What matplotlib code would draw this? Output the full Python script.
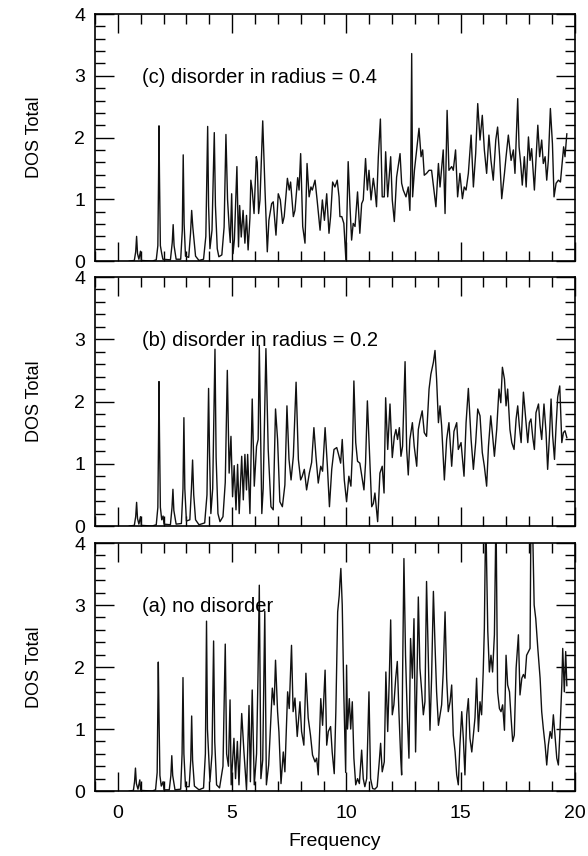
import matplotlib
matplotlib.use("Agg")
import matplotlib.pyplot as plt
from matplotlib.ticker import MultipleLocator
import numpy as np

plt.rcParams['font.family'] = ['Liberation Sans', 'DejaVu Sans']

# (frequency, DOS) points, one list per panel
pts_c = [(0.50,0.0),(0.72,0.01),(0.78,0.15),(0.82,0.40),(0.86,0.12),(0.92,0.03),(0.99,0.16),(1.03,0.01),
         (1.50,0.0),(1.68,0.02),(1.75,0.25),(1.78,1.3),(1.80,2.19),(1.82,1.4),(1.86,0.25),(1.92,0.12),
         (1.97,0.03),(2.30,0.02),(2.38,0.3),(2.42,0.59),(2.46,0.25),(2.55,0.03),(2.75,0.03),(2.82,0.5),
         (2.86,1.72),(2.90,0.6),(2.96,0.08),(3.10,0.06),(3.18,0.45),(3.23,0.82),(3.28,0.55),(3.33,0.35),
         (3.40,0.08),(3.55,0.01),(3.75,0.03),(3.85,0.4),(3.93,2.18),(3.97,0.9),(4.03,0.2),(4.12,0.5),
         (4.22,2.08),(4.27,0.9),(4.35,0.2),(4.42,0.07),(4.55,0.1),(4.65,0.55),(4.73,2.05),(4.80,1.0),
         (4.87,0.55),(4.92,0.3),(4.98,1.09),(5.04,0.12),(5.10,0.35),(5.21,1.53),(5.28,0.23),(5.33,0.9),
         (5.40,0.39),(5.48,0.82),(5.56,0.29),(5.63,0.74),(5.70,0.18),(5.78,0.7),(5.82,1.31),(5.88,1.15),
         (5.96,0.77),(6.06,1.69),(6.10,1.6),(6.16,0.77),(6.22,0.99),(6.34,2.27),(6.44,1.15),(6.54,0.15),
         (6.61,0.66),(6.73,0.93),(6.80,0.96),(6.92,0.42),(7.02,1.09),(7.11,0.99),(7.21,0.61),(7.28,0.72),
         (7.42,1.34),(7.50,1.15),(7.56,1.28),(7.68,0.72),(7.75,0.82),(7.87,1.35),(7.93,1.15),(8.00,1.74),
         (8.09,0.56),(8.19,0.29),(8.28,1.58),(8.37,1.04),(8.45,1.20),(8.51,1.15),(8.63,1.31),(8.72,0.99),
         (8.85,0.50),(8.95,0.99),(9.04,0.66),(9.14,1.09),(9.24,0.45),(9.31,0.72),(9.40,1.28),(9.50,1.20),
         (9.60,1.31),(9.68,1.04),(9.72,0.72),(9.80,0.72),(9.89,0.61),(9.98,0.02),(10.08,1.61),(10.16,0.88),
         (10.23,0.34),(10.30,0.61),(10.38,0.56),(10.49,1.12),(10.59,0.45),(10.67,0.93),(10.74,0.99),
         (10.84,1.66),(10.92,1.15),(10.99,1.47),(11.08,0.99),(11.18,1.34),(11.25,1.15),(11.32,0.88),
         (11.40,1.69),(11.49,2.30),(11.57,1.04),(11.66,1.04),(11.72,1.77),(11.81,1.04),(11.94,1.69),
         (12.01,0.99),(12.10,0.64),(12.20,1.36),(12.35,1.74),(12.42,1.26),(12.49,1.15),(12.61,1.04),
         (12.71,1.20),(12.78,0.82),(12.82,1.47),(12.86,3.36),(12.90,1.04),(12.98,1.47),(13.18,2.15),
         (13.27,1.69),(13.34,1.80),(13.41,1.39),(13.51,1.42),(13.62,1.47),(13.73,1.47),(13.85,1.09),
         (13.92,0.88),(14.03,1.58),(14.10,1.20),(14.24,1.80),(14.32,0.77),(14.41,2.44),(14.49,1.47),
         (14.61,1.53),(14.68,1.47),(14.78,1.80),(14.87,1.04),(14.97,1.42),(15.08,1.01),(15.16,1.20),
         (15.24,1.15),(15.34,1.42),(15.46,2.04),(15.56,1.20),(15.66,1.74),(15.75,2.55),(15.85,1.96),
         (15.95,2.36),(16.04,1.80),(16.14,1.42),(16.24,2.04),(16.33,1.63),(16.43,1.31),(16.54,1.96),
         (16.62,2.17),(16.71,1.69),(16.80,1.01),(16.92,1.42),(16.99,1.69),(17.09,2.04),(17.21,1.63),
         (17.31,1.80),(17.38,1.42),(17.50,2.63),(17.56,1.85),(17.63,1.58),(17.70,1.23),(17.79,1.69),
         (17.87,1.20),(17.97,2.01),(18.04,1.63),(18.11,1.82),(18.23,1.15),(18.32,1.80),(18.38,2.20),
         (18.46,1.69),(18.55,1.96),(18.62,1.58),(18.70,1.69),(18.77,1.31),(18.84,1.63),(18.93,2.47),
         (19.02,1.90),(19.09,1.04),(19.18,1.26),(19.28,1.31),(19.37,1.28),(19.43,1.53),(19.51,1.85),
         (19.57,1.69),(19.65,2.06)]

pts_b = [(0.50,0.0),(0.72,0.01),(0.78,0.15),(0.82,0.38),(0.86,0.12),(0.92,0.03),(0.99,0.15),(1.03,0.01),
         (1.50,0.0),(1.68,0.02),(1.75,0.3),(1.78,1.4),(1.80,2.32),(1.82,1.5),(1.86,0.3),(1.92,0.1),
         (1.98,0.16),(2.02,0.03),(2.30,0.02),(2.37,0.3),(2.41,0.59),(2.45,0.25),(2.55,0.03),(2.78,0.04),
         (2.85,0.6),(2.89,1.74),(2.93,0.6),(3.00,0.08),(3.15,0.1),(3.22,0.6),(3.27,1.06),(3.32,0.5),
         (3.40,0.1),(3.55,0.02),(3.80,0.05),(3.90,0.5),(3.97,2.21),(4.01,1.2),(4.07,0.2),(4.15,0.6),
         (4.25,2.84),(4.30,1.1),(4.38,0.2),(4.47,0.07),(4.60,0.15),(4.70,0.7),(4.79,2.50),(4.87,0.85),
         (4.95,1.44),(5.02,0.47),(5.09,0.97),(5.17,0.26),(5.24,0.99),(5.31,0.2),(5.42,1.12),(5.49,0.42),
         (5.56,1.15),(5.63,0.58),(5.68,1.15),(5.78,0.2),(5.88,2.04),(5.97,0.64),(6.07,1.28),(6.14,1.39),
         (6.19,2.9),(6.30,0.2),(6.36,0.6),(6.48,2.85),(6.58,1.23),(6.70,0.31),(6.80,0.26),(6.90,1.88),
         (6.99,1.39),(7.09,0.39),(7.20,0.31),(7.31,0.66),(7.40,1.93),(7.49,1.07),(7.58,0.74),(7.68,1.12),
         (7.80,2.31),(7.90,1.07),(8.00,0.74),(8.07,0.80),(8.16,0.91),(8.26,0.58),(8.38,0.85),(8.48,1.02),
         (8.58,1.58),(8.67,1.12),(8.77,0.69),(8.88,0.96),(8.96,0.88),(9.07,1.58),(9.17,0.96),(9.26,0.31),
         (9.36,0.91),(9.46,1.23),(9.58,1.26),(9.68,1.12),(9.75,1.01),(9.82,1.39),(9.91,0.74),(10.01,0.39),
         (10.11,0.80),(10.20,0.64),(10.27,1.23),(10.33,2.33),(10.41,1.34),(10.49,1.04),(10.59,1.01),
         (10.70,0.74),(10.77,0.58),(10.84,1.01),(10.92,2.01),(11.00,1.28),(11.11,0.31),(11.18,0.36),
         (11.25,0.53),(11.37,0.07),(11.47,0.85),(11.57,0.96),(11.65,0.53),(11.72,2.06),(11.81,1.23),
         (11.91,1.96),(12.01,1.10),(12.10,1.44),(12.17,1.55),(12.24,1.39),(12.32,1.58),(12.39,1.12),
         (12.46,1.28),(12.57,2.64),(12.64,1.23),(12.71,0.82),(12.78,1.39),(12.89,1.66),(12.97,1.28),
         (13.08,0.96),(13.15,1.55),(13.22,1.69),(13.32,1.85),(13.41,1.50),(13.51,1.44),(13.62,2.20),
         (13.70,2.44),(13.81,2.63),(13.88,2.82),(13.95,2.36),(14.03,1.66),(14.10,1.93),(14.17,1.61),
         (14.29,0.74),(14.39,1.39),(14.49,1.66),(14.61,0.96),(14.71,1.52),(14.83,1.66),(14.90,1.23),
         (15.02,1.34),(15.15,0.80),(15.24,1.66),(15.34,2.21),(15.46,1.39),(15.56,0.91),(15.66,1.34),
         (15.75,1.88),(15.85,1.77),(15.95,1.18),(16.04,0.96),(16.14,0.64),(16.22,1.28),(16.32,1.77),
         (16.39,1.50),(16.48,1.12),(16.58,1.55),(16.68,2.20),(16.76,1.98),(16.83,2.55),(16.92,2.36),
         (16.99,1.93),(17.06,2.20),(17.16,1.55),(17.24,1.34),(17.34,1.23),(17.43,1.72),(17.50,1.93),
         (17.57,1.61),(17.65,1.34),(17.75,2.15),(17.85,1.72),(17.94,1.34),(18.01,1.66),(18.08,1.72),
         (18.16,1.42),(18.23,1.23),(18.30,1.82),(18.41,1.96),(18.48,1.61),(18.55,1.39),(18.65,1.96),
         (18.74,1.50),(18.81,0.91),(18.89,1.45),(18.96,2.04),(19.03,1.45),(19.11,1.07),(19.18,1.61),
         (19.25,2.07),(19.34,2.25),(19.43,1.34),(19.50,1.50),(19.57,1.53),(19.65,1.42)]

pts_a = [(0.50,0.0),(0.68,0.01),(0.73,0.15),(0.77,0.37),(0.81,0.12),(0.88,0.03),(0.96,0.18),(1.00,0.01),
         (1.50,0.0),(1.65,0.02),(1.72,0.3),(1.75,1.3),(1.77,2.08),(1.80,1.2),(1.84,0.25),(1.90,0.08),
         (1.98,0.15),(2.02,0.02),(2.25,0.02),(2.32,0.25),(2.36,0.57),(2.40,0.25),(2.50,0.02),(2.75,0.03),
         (2.81,0.6),(2.85,1.83),(2.89,0.6),(2.96,0.07),(3.12,0.07),(3.19,0.5),(3.23,1.21),(3.27,0.5),
         (3.35,0.08),(3.55,0.02),(3.75,0.05),(3.83,0.6),(3.88,2.74),(3.92,1.0),(4.03,0.15),(4.12,0.6),
         (4.19,2.42),(4.24,0.8),(4.32,0.1),(4.45,0.05),(4.60,0.4),(4.70,2.37),(4.76,0.6),(4.84,0.4),
         (4.91,1.47),(4.96,0.1),(5.08,0.85),(5.15,0.2),(5.23,0.8),(5.30,0.1),(5.42,1.25),(5.52,0.62),
         (5.63,0.02),(5.74,1.38),(5.80,0.15),(5.88,1.63),(5.97,0.1),(6.07,0.6),(6.13,1.8),(6.19,3.32),
         (6.26,0.2),(6.34,0.5),(6.43,2.9),(6.50,0.1),(6.60,0.42),(6.76,1.66),(6.84,1.39),(6.90,2.11),
         (6.99,1.28),(7.05,0.95),(7.14,0.12),(7.24,0.63),(7.31,0.31),(7.43,1.6),(7.50,1.33),(7.60,2.35),
         (7.67,1.28),(7.75,1.50),(7.85,0.88),(7.97,1.44),(8.04,0.96),(8.14,0.74),(8.23,1.9),(8.33,1.18),
         (8.43,0.90),(8.52,0.58),(8.63,0.47),(8.70,0.53),(8.77,0.26),(8.88,1.49),(8.96,1.06),(9.07,1.95),
         (9.14,0.74),(9.21,0.96),(9.31,1.04),(9.38,0.63),(9.47,0.28),(9.54,1.28),(9.62,2.89),(9.69,3.16),
         (9.72,3.38),(9.76,3.59),(9.82,3.0),(9.89,1.55),(9.97,0.3),(10.01,2.03),(10.05,1.0),(10.13,1.49),
         (10.19,1.0),(10.26,1.44),(10.33,0.53),(10.41,0.1),(10.49,0.2),(10.57,0.12),(10.67,0.66),
         (10.74,0.2),(10.81,0.07),(10.89,0.2),(10.99,1.6),(11.06,0.2),(11.15,0.04),(11.25,0.03),
         (11.35,0.07),(11.44,0.47),(11.50,0.77),(11.57,0.31),(11.66,0.47),(11.73,1.92),(11.81,0.96),
         (11.88,1.82),(11.94,2.76),(12.01,1.23),(12.08,1.39),(12.16,1.82),(12.23,2.09),(12.30,1.28),
         (12.38,0.53),(12.42,0.26),(12.46,1.82),(12.52,3.75),(12.59,2.19),(12.67,1.18),(12.74,0.53),
         (12.81,2.46),(12.89,1.82),(12.96,2.78),(13.03,0.63),(13.11,2.19),(13.15,3.13),(13.22,1.98),
         (13.30,1.60),(13.37,1.23),(13.44,1.44),(13.51,3.38),(13.59,2.09),(13.66,0.98),(13.73,1.82),
         (13.81,3.22),(13.88,2.36),(13.95,1.60),(14.03,1.06),(14.10,1.23),(14.17,1.39),(14.24,1.92),
         (14.32,2.89),(14.39,1.82),(14.46,1.28),(14.54,1.44),(14.61,1.71),(14.68,0.90),(14.76,0.63),
         (14.83,0.26),(14.90,0.1),(14.97,0.74),(15.05,1.28),(15.12,0.85),(15.19,0.26),(15.27,1.23),
         (15.34,1.49),(15.41,0.85),(15.49,0.63),(15.56,0.90),(15.63,1.18),(15.70,1.82),(15.78,0.96),
         (15.85,1.44),(15.92,1.23),(15.99,1.92),(16.04,2.62),(16.10,4.5),(16.19,2.58),(16.26,1.92),
         (16.33,2.19),(16.40,1.92),(16.48,2.52),(16.55,4.5),(16.62,1.60),(16.70,1.33),(16.77,1.28),
         (16.84,1.39),(16.92,0.98),(16.99,2.19),(17.06,1.71),(17.14,1.60),(17.21,1.18),(17.28,0.80),
         (17.35,0.90),(17.43,1.98),(17.53,2.52),(17.60,1.55),(17.68,1.82),(17.75,1.88),(17.82,1.82),
         (17.89,2.19),(17.97,2.25),(18.04,2.30),(18.08,4.5),(18.14,4.5),(18.22,3.0),(18.29,2.78),
         (18.38,2.30),(18.48,1.82),(18.55,1.28),(18.62,1.01),(18.70,0.74),(18.77,0.42),(18.84,0.74),
         (18.92,0.96),(18.99,0.85),(19.06,1.23),(19.14,0.85),(19.21,0.53),(19.28,0.42),(19.35,0.96),
         (19.43,1.71),(19.47,2.30),(19.54,1.60),(19.60,2.25),(19.65,1.70)]

labels = ['(c) disorder in radius = 0.4', '(b) disorder in radius = 0.2', '(a) no disorder']
xticks = [0, 5, 10, 15, 20]
yticks = [0, 1, 2, 3, 4]

fig = plt.figure(figsize=(5.88, 8.56), dpi=100)
boxes = [(0.1616, 0.695, 0.816, 0.2886),
         (0.1616, 0.3855, 0.816, 0.2909),
         (0.1616, 0.0759, 0.816, 0.2897)]

for i, (pts, lab, box) in enumerate(zip([pts_c, pts_b, pts_a], labels, boxes)):
    ax = fig.add_axes(box)
    x, y = np.array(pts).T
    ax.plot(x, y, color='#111111', lw=1.0)
    ax.set_xlim(-1, 20)
    ax.set_ylim(0, 4)
    ax.set_xticks(xticks)
    ax.set_yticks(yticks)
    ax.xaxis.set_minor_locator(MultipleLocator(1))
    ax.yaxis.set_minor_locator(MultipleLocator(0.2))
    ax.tick_params(which='both', direction='in', top=True, right=True, width=1.0, labelsize=14)
    ax.tick_params(which='major', length=14)
    ax.tick_params(which='minor', length=7)
    ax.tick_params(axis='y', pad=7)
    ax.tick_params(axis='x', pad=10)
    for s in ax.spines.values():
        s.set_linewidth(1.2)
    ax.text(1.05, 2.98, lab, fontsize=14.5, va='center', ha='left')
    ax.set_ylabel('DOS Total', fontsize=13)
    ax.yaxis.set_label_coords(-0.108, 0.5)
    if i < 2:
        ax.tick_params(axis='x', labelbottom=False)
    else:
        ax.set_xlabel('Frequency', fontsize=14, labelpad=8)

fig.savefig('out.png', dpi=100)
